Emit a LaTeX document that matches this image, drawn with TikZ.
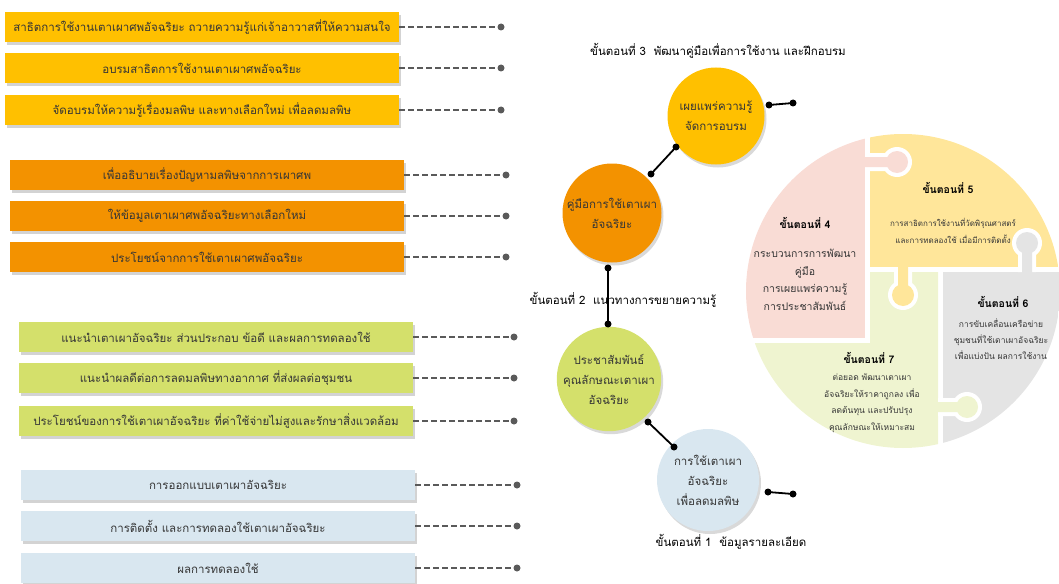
\documentclass[tikz,border=0pt]{standalone}
\usepackage{fontspec}
\newfontfamily\thaifont[Script=Thai]{Loma}
\usetikzlibrary{shadows}

\definecolor{boxyellow}{HTML}{FFC000}
\definecolor{boxorange}{HTML}{F39200}
\definecolor{boxgreen}{HTML}{D4E06B}
\definecolor{boxblue}{HTML}{D9E7F0}
\definecolor{boxtext}{HTML}{363636}
\definecolor{dotgray}{HTML}{5A5A5A}
\definecolor{pzpink}{HTML}{F9DCD5}
\definecolor{pzyellow}{HTML}{FFE69A}
\definecolor{pzgreen}{HTML}{EFF4D0}
\definecolor{pzgray}{HTML}{E4E4E4}

\tikzset{
  infobox/.style={rectangle, minimum width=394pt, minimum height=30pt, inner sep=0pt,
    font=\thaifont\fontsize{11.5}{14}\selectfont, text=boxtext,
    drop shadow={opacity=0.35, shadow xshift=2pt, shadow yshift=-3pt}},
  enddot/.style={circle, fill=dotgray, inner sep=0pt, minimum size=7pt},
  linkdot/.style={circle, fill=black, inner sep=0pt, minimum size=7pt},
  leader/.style={dotgray, line width=2pt, dash pattern=on 6pt off 3pt},
  link/.style={black, line width=1.8pt},
  stepcircle/.style={circle, minimum size=99pt, inner sep=0pt, align=center,
    font=\thaifont\fontsize{11.5}{20}\selectfont, text=boxtext,
    drop shadow={opacity=0.3, shadow xshift=2pt, shadow yshift=-3pt}},
  steplabel/.style={font=\thaifont\fontsize{11.5}{14}\selectfont, inner sep=0pt},
  pzhead/.style={font=\thaifont\bfseries\fontsize{10.5}{12}\selectfont, inner sep=0pt},
  pztext/.style={align=center, inner sep=0pt, text=boxtext}
}

\begin{document}
\begin{tikzpicture}[x=1pt,y=-1pt]
  \useasboundingbox (0,0) rectangle (1059,583);

  % Step 3 boxes
  \foreach \i/\y/\txt in {1/27/สาธิตการใช้งานเตาเผาศพอัจฉริยะ ถวายความรู้แก่เจ้าอาวาสที่ให้ความสนใจ,
      2/68/อบรมสาธิตการใช้งานเตาเผาศพอัจฉริยะ,
      3/110/จัดอบรมให้ความรู้เรื่องมลพิษ และทางเลือกใหม่ เพื่อลดมลพิษ} {
    \node[infobox, fill=boxyellow] (train\i) at (202,\y) {\txt};
    \node[enddot] (traindot\i) at (501,\y) {};
    \draw[leader] (train\i) -- (traindot\i);
  }

  % Step 2 boxes
  \foreach \i/\y/\txt in {1/175/เพื่ออธิบายเรื่องปัญหามลพิษจากการเผาศพ,
      2/216/ให้ข้อมูลเตาเผาศพอัจฉริยะทางเลือกใหม่,
      3/257/ประโยชน์จากการใช้เตาเผาศพอัจฉริยะ} {
    \node[infobox, fill=boxorange] (guide\i) at (207,\y) {\txt};
    \node[enddot] (guidedot\i) at (506,\y) {};
    \draw[leader] (guide\i) -- (guidedot\i);
  }

  % Public relations boxes
  \foreach \i/\y/\txt in {1/337/แนะนำเตาเผาอัจฉริยะ ส่วนประกอบ ข้อดี และผลการทดลองใช้,
      2/378/แนะนำผลดีต่อการลดมลพิษทางอากาศ ที่ส่งผลต่อชุมชน,
      3/421/ประโยชน์ของการใช้เตาเผาอัจฉริยะ ที่ค่าใช้จ่ายไม่สูงและรักษาสิ่งแวดล้อม} {
    \node[infobox, fill=boxgreen] (promo\i) at (216,\y) {\txt};
    \node[enddot] (promodot\i) at (514,\y) {};
    \draw[leader] (promo\i) -- (promodot\i);
  }

  % Step 1 boxes
  \foreach \i/\y/\txt in {1/485/การออกแบบเตาเผาอัจฉริยะ,
      2/526/การติดตั้ง และการทดลองใช้เตาเผาอัจฉริยะ,
      3/568/ผลการทดลองใช้} {
    \node[infobox, fill=boxblue] (detail\i) at (218,\y) {\txt};
    \node[enddot] (detaildot\i) at (517,\y) {};
    \draw[leader] (detail\i) -- (detaildot\i);
  }

  % Step circles
  \node[stepcircle, minimum size=97pt, fill=boxyellow] (spread) at (716,116) {เผยแพร่ความรู้\\จัดการอบรม};
  \node[stepcircle, fill=boxorange] (manual) at (612,213) {คู่มือการใช้เตาเผา\\อัจฉริยะ};
  \node[stepcircle, minimum size=100pt, fill=boxgreen] (pr) at (609,379) {ประชาสัมพันธ์\\คุณลักษณะเตาเผา\\อัจฉริยะ};
  \node[stepcircle, minimum size=102pt, fill=boxblue] (use) at (708,480) {การใช้เตาเผา\\อัจฉริยะ\\เพื่อลดมลพิษ};

  % Step labels
  \node[steplabel] (label3) at (718,51) {ขั้นตอนที่ 3~~พัฒนาคู่มือเพื่อการใช้งาน และฝึกอบรม};
  \node[steplabel] (label2) at (623,300) {ขั้นตอนที่ 2~~แนวทางการขยายความรู้};
  \node[steplabel] (label1) at (731,542) {ขั้นตอนที่ 1~~ข้อมูลรายละเอียด};

  % Links between circles
  \foreach \name/\x/\y in {a/769/105, b/793/103, c/651/174, d/676/147, e/608/268, f/608/324,
      g/648/422, h/674/447, i/768/492, j/793/494} {
    \node[linkdot] (dot\name) at (\x,\y) {};
  }
  \foreach \p/\q in {a/b, c/d, e/f, g/h, i/j} {
    \draw[link] (dot\p.center) -- (dot\q.center);
  }

  % Puzzle pieces
  \begin{scope}
    \clip (903,291) circle (157pt);
    \fill[pzpink] (740,120) rectangle (865,338);
    \fill[pzyellow] (870,120) rectangle (1070,267);
    \fill[pzgreen] (740,343) rectangle (938,460) (870,272) rectangle (938,343);
    \fill[pzgray] (943,272) rectangle (1070,460);
  \end{scope}
  % knobs
  \fill[white] (865,153) rectangle (897,171) (897,162) circle (15pt);
  \fill[pzpink] (860,157) rectangle (897,167) (897,162) circle (11pt);
  \fill[white] (894,267) rectangle (912,295) (903,295) circle (15pt);
  \fill[pzyellow] (898,262) rectangle (908,295) (903,295) circle (11pt);
  \fill[white] (1018,243) rectangle (1036,272) (1027,243) circle (15pt);
  \fill[pzgray] (1022,243) rectangle (1032,277) (1027,243) circle (11pt);
  \fill[white] (938,398) rectangle (967,416) (967,407) circle (15pt);
  \fill[pzgreen] (933,402) rectangle (967,412) (967,407) circle (11pt);

  % Puzzle texts
  \node[pzhead] (head4) at (805,223) {ขั้นตอนที่ 4};
  \node[pztext, font=\thaifont\fontsize{10.5}{17.5}\selectfont] (text4) at (805,280) {กระบวนการการพัฒนา\\คู่มือ\\การเผยแพร่ความรู้\\การประชาสัมพันธ์};
  \node[pzhead] (head5) at (948,188) {ขั้นตอนที่ 5};
  \node[pztext, font=\thaifont\fontsize{8}{17}\selectfont] (text5) at (953,231) {การสาธิตการใช้งานที่วัดพิรุณศาสตร์\\และการทดลองใช้ เมื่อมีการติดตั้ง};
  \node[pzhead] (head6) at (1003,302) {ขั้นตอนที่ 6};
  \node[pztext, font=\thaifont\fontsize{8.5}{16}\selectfont] (text6) at (1001,339) {การขับเคลื่อนเครือข่าย\\ชุมชนที่ใช้เตาเผาอัจฉริยะ\\เพื่อแบ่งปัน ผลการใช้งาน};
  \node[pzhead] (head7) at (869,358) {ขั้นตอนที่ 7};
  \node[pztext, font=\thaifont\fontsize{8.5}{16.5}\selectfont] (text7) at (872,403) {ต่อยอด พัฒนาเตาเผา\\อัจฉริยะให้ราคาถูกลง เพื่อ\\ลดต้นทุน และปรับปรุง\\คุณลักษณะให้เหมาะสม};
\end{tikzpicture}
\end{document}
